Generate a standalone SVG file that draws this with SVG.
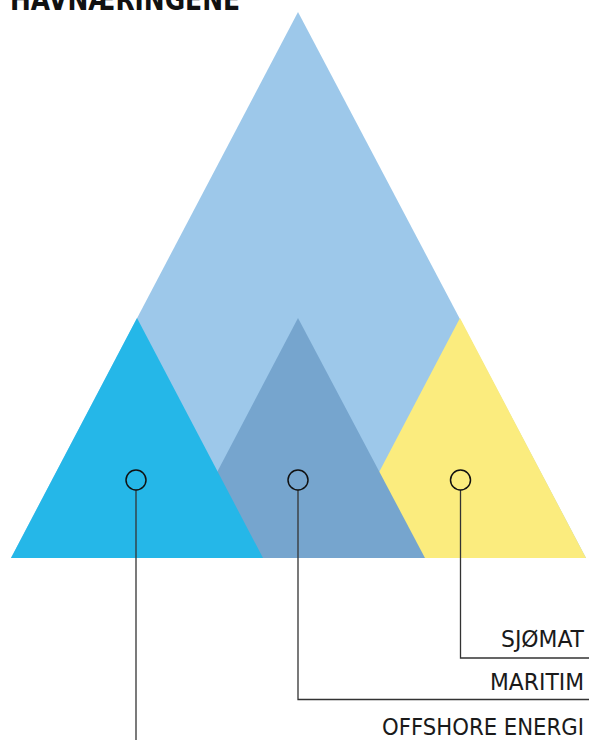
<svg xmlns="http://www.w3.org/2000/svg" width="589" height="740" viewBox="0 0 589 740">
<style>
.lbl{font-family:"Liberation Sans Narrow","DejaVu Sans Condensed","Liberation Sans",sans-serif;font-size:23px;fill:#1a1a1a}
.ttl{font-family:"Liberation Sans Narrow","DejaVu Sans Condensed","Liberation Sans",sans-serif;font-size:30px;font-weight:bold;fill:#111}
.dot{fill:none;stroke:#111;stroke-width:1.5}
.conn{fill:none;stroke:#333;stroke-width:1.3}
</style>
<rect width="589" height="740" fill="#fff"/>
<text class="ttl" x="10" y="10" textLength="230" lengthAdjust="spacingAndGlyphs">HAVNÆRINGENE</text>
<g id="big"><polygon points="298,12 586,558 11,558" fill="#9DC8EA"/></g>
<g id="yellow"><polygon points="460,318 586,558 334,558" fill="#FBEC7E"/></g>
<g id="mid"><polygon points="298,318 425,558 172,558" fill="#76A5CE"/></g>
<g id="cyan"><polygon points="137,318 263,558 11,558" fill="#25B7E8"/></g>
<g id="connectors">
<path class="conn" d="M136,490 V740"/>
<path class="conn" d="M298,490 V699.5 H589"/>
<path class="conn" d="M460.5,490 V658 H589"/>
</g>
<g id="markers">
<circle class="dot" cx="136" cy="480" r="10"/>
<circle class="dot" cx="298" cy="480" r="10"/>
<circle class="dot" cx="460.5" cy="480" r="10"/>
</g>
<g id="labels">
<text class="lbl" x="584" y="647" text-anchor="end" textLength="83" lengthAdjust="spacingAndGlyphs">SJØMAT</text>
<text class="lbl" x="584" y="690" text-anchor="end" textLength="94" lengthAdjust="spacingAndGlyphs">MARITIM</text>
<text class="lbl" x="584" y="735" text-anchor="end" textLength="202" lengthAdjust="spacingAndGlyphs">OFFSHORE ENERGI</text>
</g>
</svg>
